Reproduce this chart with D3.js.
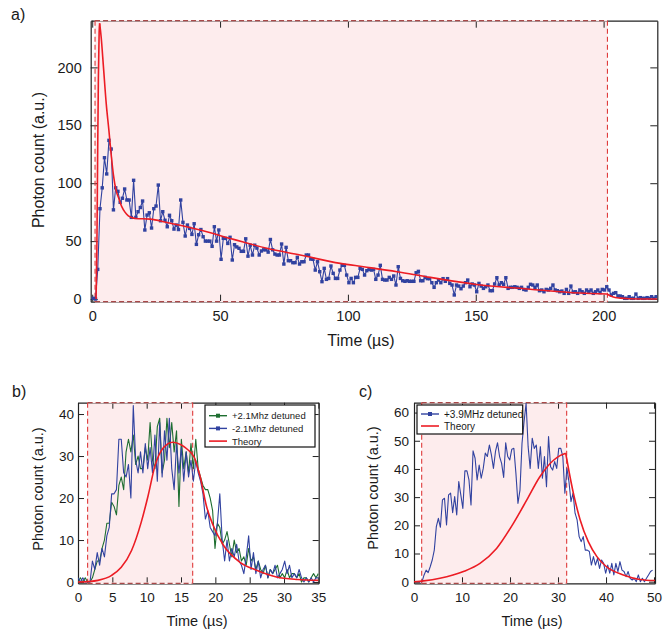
<!DOCTYPE html>
<html><head><meta charset="utf-8">
<script src="https://cdn.jsdelivr.net/npm/d3@7"></script>
<style>
body{margin:0;background:#fff}
svg{display:block}
text{font-family:"Liberation Sans",Arial,Helvetica,sans-serif;fill:#1a1a1a}
</style>
</head><body>
<svg id="chart" width="670" height="629"></svg>
<script>
// ---------------- Panel a data ----------------
const aStart = 0.4, aStep = 0.877;          // sampling grid (µs)
const countsA = [
 0.6,0,25.6,78,96,122,108,137,129.5,77,96,93,83.5,87,95,85.5,85.5,70.5,102.5,70.5,
 75.4,79,84.6,59.6,72.5,74.5,61.3,78,80.3,98.4,67.6,75.4,68,62.4,72.3,67.6,60.4,63.9,60,85.5,
 66.2,54.4,63.9,61,55.8,65,47.2,55.5,60,53.8,50,50,50,45.5,62.4,50,59.6,34.3,52.4,52.4,
 48,53.3,33.7,46.9,45,43.8,41.2,41.2,52,37,46.5,38,46.5,44,38,41.5,42.5,42.5,40.5,51.4,
 42.5,38.8,
 38.0,38.0,47.5,30.2,44.6,33.1,33.1,31.4,31.4,36.0,30.2,32.2,32.2,38.0,38.0,34.5,34.3,25.0,32.2,23.6,
 15.0,26.5,17.0,17.8,28.5,22.2,17.8,17.8,25.0,29.1,29.1,20.7,14.1,17.8,14.1,18.7,18.7,26.5,25.6,20.7,
 24.5,25.6,25.0,25.6,17.0,20.7,29.1,17.0,16.4,16.4,18.7,17.0,19.9,12.1,27.9,17.8,15.8,15.3,15.8,15.3,
 15.3,15.3,22.7,23.9,15.8,15.8,18.7,17.6,17.6,14.1,10.1,14.1,16.4,14.1,17.6,15.3,17.6,13.5,12.1,3.5,
 12.1,11.2,8.9,11.2,14.1,16.4,
 10.6,13.0,12.1,6.3,13.5,11.2,9.2,10.6,12.1,7.2,7.2,13.0,18.4,12.1,14.1,12.7,18.4,9.2,10.1,10.1,
 10.6,10.1,9.2,10.1,8.3,7.8,10.1,12.7,12.1,10.1,12.1,7.2,7.8,6.3,8.3,7.8,9.2,12.1,7.8,7.2,
 6.3,6.9,4.9,8.3,4.9,11.2,6.0,6.3,4.9,7.8,6.3,4.9,7.8,6.3,7.8,4.9,6.3,7.8,5.5,8.3,
 7.8,10.6,7.8,3.5,4.9,5.5,2.6,2.6,2.0,0.6,0.6,2.0,0.6,0.6,4.3,0.6,1.2,0.6,0.6,1.2,
 0.6,2.0,0.6,2.0
];
const theoryARiseT = [1.5,1.8,2.1,2.4,2.7,2.9];
const theoryARiseV = [0,40,120,190,230,238];
const theoryADecayT = [2.9,3.5,4.4,5.5,6.5,7.4,8.3,9.3,10.2,11.5,12.8,14,15.4,17,22.7,29.2,42.2,55.3,68.3,81.3,97,106.1,119.2,132.2,150.2,171.3,190.8,201.3];
const theoryADecayV = [238,226,200,168,146,125,107,94,88,80,75,72,70.3,69.5,69,66,59.6,51.5,43.8,38,30.8,27.9,23.6,18.7,12.6,8.5,5.2,4.3];
const theoryATailT = [201.3,203.5,206.5,210,221];
const theoryATailV = [4.3,2.0,0.8,0.3,0];
const pulseA = [1.1, 201.5];
const ticksAX = [0,50,100,150,200];
const ticksAY = [0,50,100,150,200];

// ---------------- Panel b data ----------------
const bStart = 0, bStep = 0.35;
const countsBPlus = [
 0,1,0,1,0,0,1,3,5,5,8,10,14,14,19,18,16,23,25,22,
 31,34,31,35,28,30,27,27,32,29,38,29,27,37,39,26,29,39,32,38,
 31,36,18,34,27,31,26,33,27,34,27,25,23,22,22,20,17,8,14,13,
 9,10,12,9,6,10,7,8,5,6,4,8,5,6,3,5,3,2,4,1,
 3,2,3,4,1,2,1,3,1,2,2,1,2,0,1,1,0,1,2,1,2
];
const countsBMinus = [
 1,0,1,0,0,0,5,3,7,4,8,6,11,13,21,21,22,34,34,26,
 25,28,20,42,29,26,31,26,33,27,32,26,35,24,38,25,36,29,39,27,
 22,33,26,32,24,31,25,29,24,29,26,24,21,15,17,13,12,11,14,21,
 10,5,10,5,8,6,9,5,4,2,6,11,3,7,2,5,1,3,4,1,
 3,2,4,1,2,3,5,2,4,1,2,1,3,1,0,1,0,1,0,1,1
];
const theoryBRiseT = [0,1.4,2.9,4.9,6.3,7.8,9.2,10.2,11.2,12.4,13.8,15,16,16.5,17];
const theoryBRiseV = [0,0.1,0.4,1.6,3.5,7.5,14.2,20.5,27.6,31.9,33.3,32.7,31.5,30.7,29.5];
const theoryBDecayT = [17,17.8,18.7,19.7,21.2,23.6,26,28.9,32,35];
const theoryBDecayV = [29.5,25,18.1,13.4,8.7,4.7,2.8,1.2,0.6,0.4];
const pulseB = [1.4, 16.7];
const ticksBX = [0,5,10,15,20,25,30,35];
const ticksBY = [0,10,20,30,40];

// ---------------- Panel c data ----------------
const cStart = 0.4, cStep = 0.425;
const countsC = [
 0,0,0,0,
 2.4,4.1,3.2,5.3,7.7,11.2,19.5,22.5,19.3,29,
 29.6,20.1,30.8,31.4,24.5,30.2,23.7,35.5,30.8,26,
 39.3,39.3,36.1,27.2,46.4,43.8,36.1,41.4,36.7,40.2,
 45.6,44.4,48.5,45,40.2,46.2,49.3,44.4,42,37,
 49.3,44.4,43.2,47,47.3,38.5,27.8,32.5,49.1,56.8,
 63.3,47.9,40.2,50.9,47.3,48.5,40.2,47.9,36.7,44.4,
 33.7,51.5,40.8,39.6,42.6,40.2,47.3,47.3,44.4,31.4,
 40.2,35.5,28.4,31.4,24.3,21.9,16,14.2,16,11.2,
 11.2,10.7,5.9,8.9,5.9,8.3,4.7,7.7,6.5,3,
 5.9,3,6.5,2.4,6.5,3.6,7.1,4.1,3.6,1.8,
 3.6,1.2,0.6,1.2,0,2.4,0,1.2,0,1.2,
 2.4,3.6,4.1
];
const theoryCRiseT = [0,2,5.4,10.3,13.75,17.2,20.7,23.5,26.25,29,30.5,31.6];
const theoryCRiseV = [0,0.3,1.2,3.6,6.5,11.8,20.7,29,37.3,43,44.8,45.6];
const theoryCDecayT = [31.6,32.3,33.2,34.6,36.3,38.1,40.1,43.6,47.1,50.2];
const theoryCDecayV = [45.6,39,31.4,22,14.2,8.9,5.3,2.4,0.8,0.4];
const pulseC = [1.6, 31.8];
const ticksCX = [0,10,20,30,40,50];
const ticksCY = [0,10,20,30,40,50,60];

// ---------------- drawing ----------------
const svg = d3.select('#chart');
const BLUE = '#3142a0', GREEN = '#1e6e30', RED = '#ec1c24';
const SHADE = '#fdeced', VDASH = '#df3b3b', HDASH = '#a94848', FRAME = '#222';

const grid = (t0, dt, vals) => vals.map((v, i) => [t0 + i * dt, v]);
const pairs = (ts, vs) => ts.map((t, i) => [t, vs[i]]);

function drawPanel(o) {
  const x = d3.scaleLinear().domain(o.xd).range([o.l, o.r]);
  const y = d3.scaleLinear().domain(o.yd).range([o.b, o.t]);
  const g = svg.append('g');
  const cid = 'clip-' + o.name;
  svg.append('clipPath').attr('id', cid).append('rect')
    .attr('x', o.l).attr('y', o.t).attr('width', o.r - o.l).attr('height', o.b - o.t);

  const x0 = x(o.pulse[0]), x1 = x(o.pulse[1]);
  g.append('rect').attr('x', x0).attr('y', o.t).attr('width', x1 - x0)
    .attr('height', o.b - o.t).attr('fill', SHADE);

  // axes (inward ticks on all four sides)
  const tk = o.tick;
  const axB = g.append('g').attr('transform', `translate(0,${o.b})`)
    .call(d3.axisBottom(x).tickValues(o.xt).tickSize(-tk).tickSizeOuter(0).tickPadding(o.padX));
  const axT = g.append('g').attr('transform', `translate(0,${o.t})`)
    .call(d3.axisTop(x).tickValues(o.xt).tickSize(-tk).tickSizeOuter(0).tickFormat(''));
  const axL = g.append('g').attr('transform', `translate(${o.l},0)`)
    .call(d3.axisLeft(y).tickValues(o.yt).tickSize(-tk).tickSizeOuter(0).tickPadding(o.padY));
  const axR = g.append('g').attr('transform', `translate(${o.r},0)`)
    .call(d3.axisRight(y).tickValues(o.yt).tickSize(-tk).tickSizeOuter(0).tickFormat(''));
  [axB, axT, axL, axR].forEach(a => {
    a.select('.domain').attr('stroke', FRAME).attr('stroke-width', 1.2);
    a.selectAll('.tick line').attr('stroke', FRAME).attr('stroke-width', 1);
    a.selectAll('text').style('font-size', o.tickFont + 'px').attr('fill', '#1a1a1a')
      .style('font-family', '"Liberation Sans",Arial,sans-serif');
  });

  // dashed edges of the pulse window
  [o.t, o.b].forEach(yy => {
    g.append('line').attr('x1', x0).attr('x2', x1).attr('y1', yy).attr('y2', yy)
      .attr('stroke', SHADE).attr('stroke-width', 1.6);
    g.append('line').attr('x1', x0).attr('x2', x1).attr('y1', yy).attr('y2', yy)
      .attr('stroke', HDASH).attr('stroke-width', 1.2).attr('stroke-dasharray', '5,3');
  });
  [x0, x1].forEach(xx => {
    g.append('line').attr('x1', xx).attr('x2', xx).attr('y1', o.t).attr('y2', o.b)
      .attr('stroke', VDASH).attr('stroke-width', 1.1).attr('stroke-dasharray', '5,3');
  });

  const plot = g.append('g').attr('clip-path', `url(#${cid})`);
  const lineL = d3.line().x(d => x(d[0])).y(d => y(d[1]));
  const lineS = d3.line().x(d => x(d[0])).y(d => y(d[1])).curve(d3.curveMonotoneX);

  o.series.forEach(s => {
    plot.append('path').datum(s.pts).attr('fill', 'none').attr('stroke', s.color)
      .attr('stroke-width', s.w).attr('stroke-linejoin', 'round').attr('d', lineL);
    if (s.marker) {
      plot.selectAll(null).data(s.pts).enter().append('rect')
        .attr('x', d => x(d[0]) - s.marker / 2).attr('y', d => y(d[1]) - s.marker / 2)
        .attr('width', s.marker).attr('height', s.marker).attr('fill', s.color);
    }
  });
  o.theory.forEach(seg => {
    plot.append('path').datum(seg).attr('fill', 'none').attr('stroke', RED)
      .attr('stroke-width', 1.6).attr('d', lineS);
  });

  // labels
  svg.append('text').attr('x', o.xl[0]).attr('y', o.xl[1]).attr('text-anchor', 'middle')
    .style('font-size', o.titleFont + 'px').text('Time (µs)');
  svg.append('text').attr('transform', `translate(${o.yl[0]},${o.yl[1]}) rotate(-90)`)
    .attr('text-anchor', 'middle').style('font-size', o.titleFont + 'px').text('Photon count (a.u.)');
  svg.append('text').attr('x', o.pl[0]).attr('y', o.pl[1]).style('font-size', '16px').text(o.name + ')');

  if (o.legend) {
    const L = o.legend;
    svg.append('rect').attr('x', L.x).attr('y', L.y).attr('width', L.w).attr('height', L.h)
      .attr('fill', '#fff').attr('stroke', '#111').attr('stroke-width', 1.2);
    L.items.forEach((it, i) => {
      const yy = L.y + L.first + i * L.gap;
      svg.append('line').attr('x1', L.x + 4).attr('x2', L.x + 22).attr('y1', yy).attr('y2', yy)
        .attr('stroke', it.color).attr('stroke-width', it.marker ? 1.4 : 1.6);
      if (it.marker) {
        svg.append('rect').attr('x', L.x + 11).attr('y', yy - 2).attr('width', 4).attr('height', 4)
          .attr('fill', it.color);
      }
      svg.append('text').attr('x', L.x + 27).attr('y', yy + 3.5).style('font-size', L.font + 'px').text(it.label);
    });
  }
}

drawPanel({
  name: 'a', l: 90.7, r: 657.3, t: 20.7, b: 301.7,
  xd: [-0.6, 221], yd: [-2.3, 240.3], xt: ticksAX, yt: ticksAY,
  tick: 7, padX: 9, padY: 9, tickFont: 14.5, titleFont: 16,
  pulse: pulseA,
  series: [{ pts: grid(aStart, aStep, countsA), color: BLUE, w: 1.1, marker: 3.4 }],
  theory: [pairs(theoryARiseT, theoryARiseV), pairs(theoryADecayT, theoryADecayV), pairs(theoryATailT, theoryATailV)],
  xl: [361, 346], yl: [44, 160], pl: [11, 20]
});

drawPanel({
  name: 'b', l: 78, r: 318.7, t: 402.7, b: 583.3,
  xd: [0, 35.05], yd: [-0.3, 42.7], xt: ticksBX, yt: ticksBY,
  tick: 6, padX: 9, padY: 4, tickFont: 13.5, titleFont: 14.5,
  pulse: pulseB,
  series: [
    { pts: grid(bStart, bStep, countsBPlus), color: GREEN, w: 1.1 },
    { pts: grid(bStart, bStep, countsBMinus), color: BLUE, w: 1.1 }
  ],
  theory: [pairs(theoryBRiseT, theoryBRiseV), pairs(theoryBDecayT, theoryBDecayV)],
  xl: [197, 626], yl: [43, 489], pl: [12, 397],
  legend: { x: 205, y: 405, w: 110, h: 42, first: 10.7, gap: 12.7, font: 9.5,
    items: [{ label: '+2.1Mhz detuned', color: GREEN, marker: true },
            { label: '-2.1Mhz detuned', color: BLUE, marker: true },
            { label: 'Theory', color: RED }] }
});

drawPanel({
  name: 'c', l: 414, r: 655, t: 402.7, b: 583.3,
  xd: [0, 50.2], yd: [-0.57, 63.5], xt: ticksCX, yt: ticksCY,
  tick: 6, padX: 9, padY: 5, tickFont: 13.5, titleFont: 14.5,
  pulse: pulseC,
  series: [{ pts: grid(cStart, cStep, countsC), color: BLUE, w: 1.1 }],
  theory: [pairs(theoryCRiseT, theoryCRiseV), pairs(theoryCDecayT, theoryCDecayV)],
  xl: [532, 626], yl: [378, 488], pl: [359, 397],
  legend: { x: 417, y: 405, w: 105.7, h: 29, first: 9, gap: 12, font: 10,
    items: [{ label: '+3.9MHz detuned', color: BLUE, marker: true },
            { label: 'Theory', color: RED }] }
});
</script>
</body></html>
